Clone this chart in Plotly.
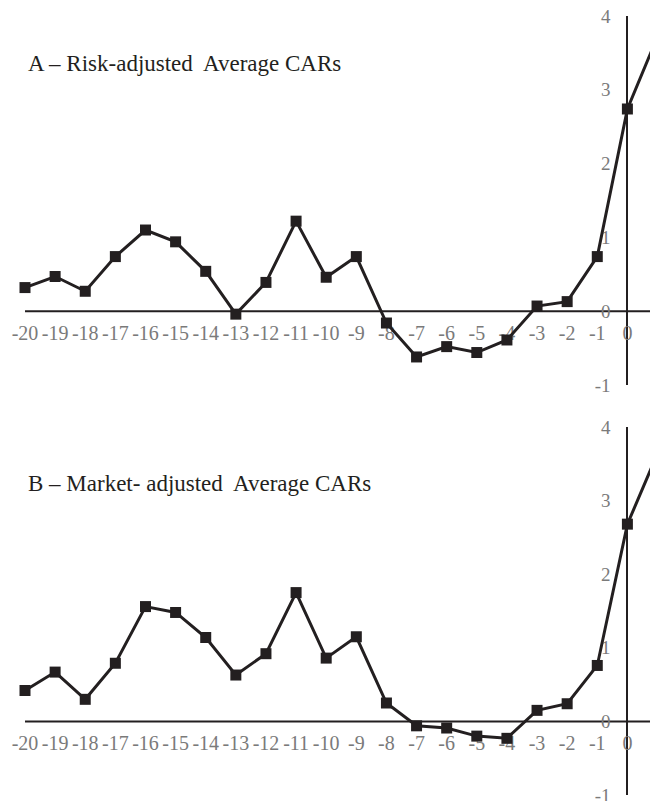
import plotly.graph_objects as go

days = list(range(-20, 2))
car_risk = [0.32, 0.47, 0.27, 0.74, 1.10, 0.94, 0.54, -0.04, 0.39, 1.22, 0.46,
            0.74, -0.16, -0.62, -0.48, -0.56, -0.39, 0.07, 0.13, 0.74, 2.74, 3.72]
car_market = [0.42, 0.67, 0.30, 0.79, 1.56, 1.48, 1.14, 0.63, 0.92, 1.75, 0.86,
              1.15, 0.25, -0.06, -0.09, -0.20, -0.23, 0.15, 0.24, 0.76, 2.68, 3.64]
titles = ["A \u2013 Risk-adjusted  Average CARs", "B \u2013 Market- adjusted  Average CARs"]
y_ticks = [-1, 0, 1, 2, 3, 4]
y_tick_text = ["-1", "0", "1", "2", "3", "4"]

W, H = 658, 801
OFF = 8  # page body margin offset
LINE = "#231f20"
GRAY = "#7a7a7a"
FONT = "Liberation Serif"

# pixel geometry (screen pixels, converted to figure pixels with OFF)
x0px, dx = 25.0 - OFF, 30.12  # x=-20 position, step per day
xr = [-20 - x0px / dx, -20 + (W - x0px) / dx]
panels = [(16 - OFF, 385 - OFF), (427 - OFF, 795 - OFF)]  # rows for y=4 and y=-1
xax_px = x0px + 20 * dx  # x position of y axis (day 0)

fig = go.Figure()
series = [car_risk, car_market]
title_px = [64 - OFF, 483 - OFF]
for i, (vals, (ptop, pbot)) in enumerate(zip(series, panels)):
    n = "" if i == 0 else str(i + 1)
    fig.add_trace(go.Scatter(
        x=days, y=vals, mode="lines+markers",
        line=dict(color=LINE, width=3),
        marker=dict(symbol="square", size=11, color=LINE),
        xaxis="x" + n, yaxis="y" + n, showlegend=False, hoverinfo="x+y",
    ))
    dom = [1 - pbot / H, 1 - ptop / H]
    zero_px = ptop + 4 * (pbot - ptop) / 5
    fig.layout["yaxis" + n] = dict(
        domain=dom, range=[-1, 4], anchor="free", position=xax_px / W,
        showline=True, linecolor=LINE, linewidth=2, showgrid=False, zeroline=False,
        tickvals=y_ticks, ticktext=y_tick_text, ticks="", ticklabelstandoff=12,
        automargin=False, ticklabeloverflow="allow", layer="below traces",
        tickfont=dict(family=FONT, size=19, color=GRAY),
    )
    fig.layout["xaxis" + n] = dict(
        domain=[0, 1], range=xr, anchor="free", position=1 - zero_px / H,
        showline=False, showgrid=False, zeroline=False,
        tickvals=days, ticktext=[str(d) for d in days], ticks="",
        ticklabelstandoff=8, automargin=False, ticklabeloverflow="allow",
        layer="below traces",
        tickfont=dict(family=FONT, size=20, color=GRAY),
    )
    fig.add_shape(type="line", xref="x" + n, yref="y" + n,
                  x0=-20, x1=xr[1], y0=0, y1=0,
                  line=dict(color=LINE, width=2), layer="below")
    fig.add_annotation(
        text=titles[i], xref="paper", yref="paper",
        x=(26 - OFF) / W, y=1 - title_px[i] / H, xanchor="left", yanchor="middle",
        showarrow=False, font=dict(family=FONT, size=23, color="#231f20"),
    )

fig.update_layout(
    width=W, height=H, margin=dict(l=0, r=0, t=0, b=0, autoexpand=False),
    paper_bgcolor="white", plot_bgcolor="white", template="none",
)
fig.write_html("out.html")
